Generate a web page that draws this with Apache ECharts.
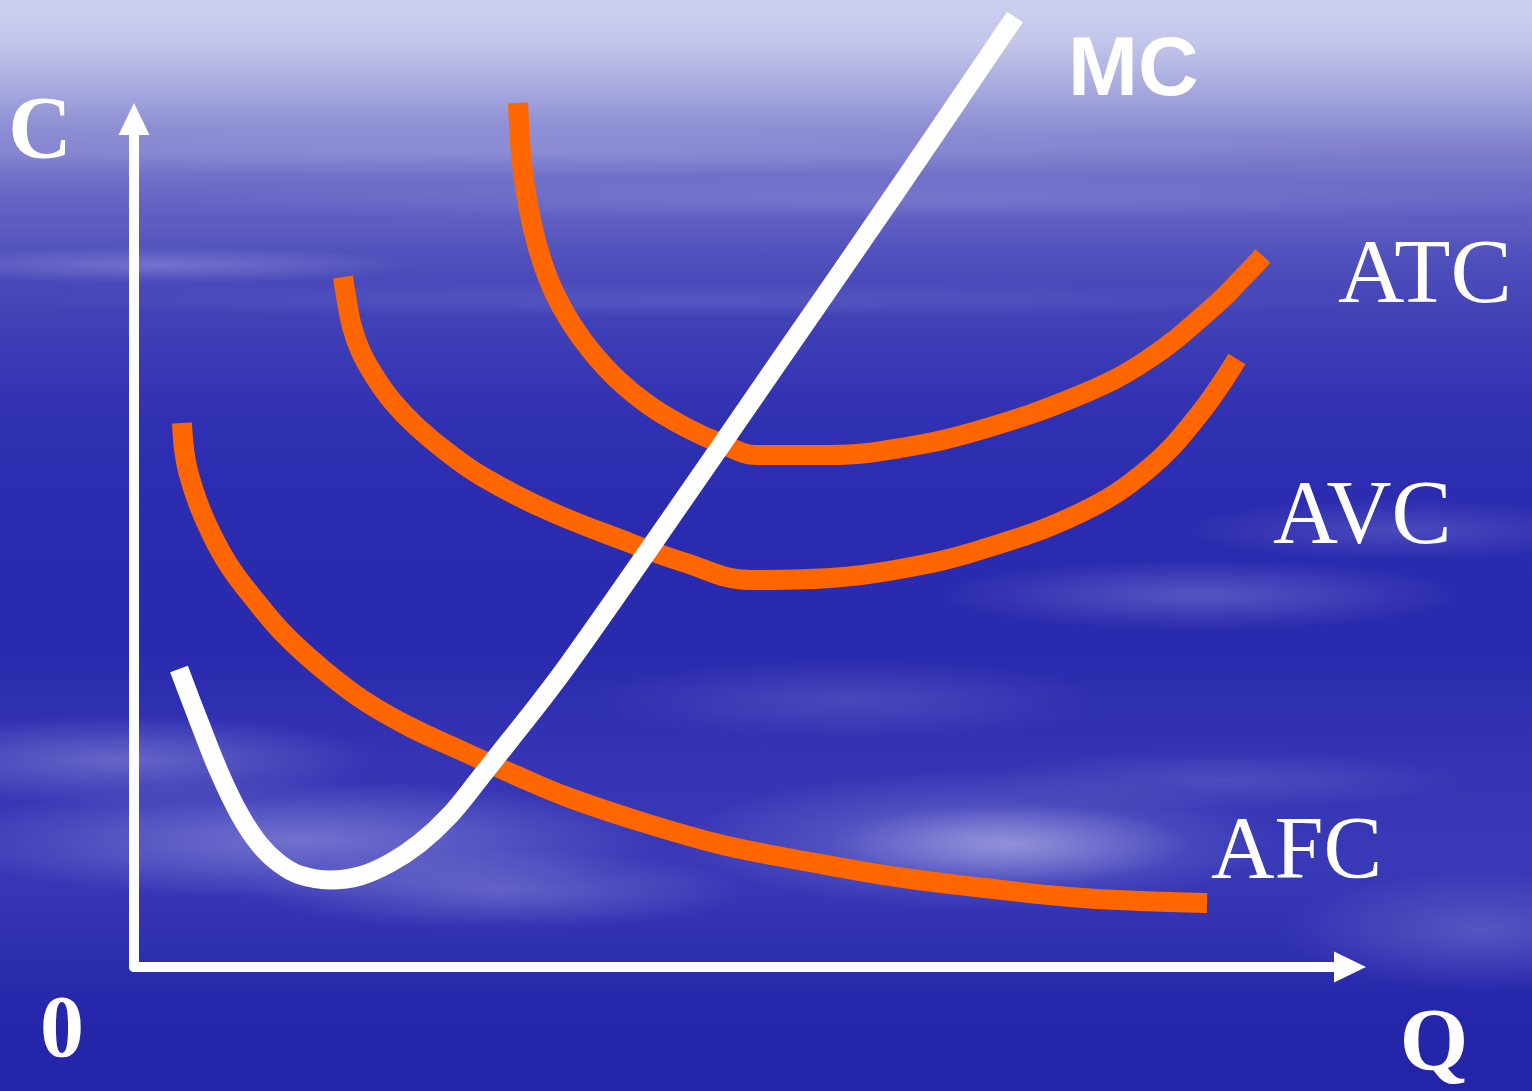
<!DOCTYPE html>
<html>
<head>
<meta charset="utf-8">
<title>Cost curves</title>
<script src="https://cdn.jsdelivr.net/npm/echarts@6/dist/echarts.min.js"></script>
<style>
  html, body { margin: 0; padding: 0; width: 1532px; height: 1091px; overflow: hidden; }
  #sky {
    position: absolute; left: 0; top: 0; width: 1532px; height: 1091px;
    background:
      radial-gradient(ellipse 180px 40px at 1010px 845px, rgba(190,190,235,0.5), rgba(190,190,235,0) 100%),
      radial-gradient(ellipse 300px 70px at 980px 840px, rgba(160,160,225,0.45), rgba(160,160,225,0) 100%),
      radial-gradient(ellipse 360px 60px at 300px 840px, rgba(160,160,225,0.55), rgba(160,160,225,0) 100%),
      radial-gradient(ellipse 260px 45px at 120px 760px, rgba(150,150,220,0.5), rgba(150,150,220,0) 100%),
      radial-gradient(ellipse 250px 40px at 500px 890px, rgba(150,150,220,0.45), rgba(150,150,220,0) 100%),
      radial-gradient(ellipse 260px 40px at 850px 700px, rgba(140,140,215,0.28), rgba(140,140,215,0) 100%),
      radial-gradient(ellipse 260px 35px at 1200px 595px, rgba(150,150,220,0.4), rgba(150,150,220,0) 100%),
      radial-gradient(ellipse 220px 30px at 1400px 530px, rgba(140,140,215,0.32), rgba(140,140,215,0) 100%),
      radial-gradient(ellipse 200px 60px at 1480px 930px, rgba(140,140,215,0.4), rgba(140,140,215,0) 100%),
      radial-gradient(ellipse 250px 30px at 1220px 780px, rgba(140,140,215,0.28), rgba(140,140,215,0) 100%),
      radial-gradient(ellipse 260px 18px at 160px 265px, rgba(170,170,230,0.4), rgba(170,170,230,0) 100%),
      radial-gradient(ellipse 700px 18px at 700px 300px, rgba(150,150,220,0.2), rgba(150,150,220,0) 100%),
      radial-gradient(ellipse 800px 22px at 900px 200px, rgba(180,180,235,0.22), rgba(180,180,235,0) 100%),
      radial-gradient(ellipse 900px 25px at 500px 150px, rgba(190,190,240,0.22), rgba(190,190,240,0) 100%),
      linear-gradient(to bottom,
        #cdd0ee 0px, #c4c6ea 40px, #a6a8de 90px, #8585d0 140px, #6464c4 200px,
        #4c4cbb 270px, #3d3db6 340px, #3030b2 420px, #2b2bb0 520px, #2a2aae 650px,
        #3434b4 760px, #3a3ab8 860px, #3030b2 940px, #2626aa 1010px, #2424a8 1091px);
  }
  #chart { position: absolute; left: 0; top: 0; width: 1532px; height: 1091px; }
</style>
</head>
<body>
<div id="sky"></div>
<div id="chart"></div>
<script>
// Short-run cost curves: quantity Q on the horizontal axis, cost C on the vertical axis.
var qMax = 12.16;
var cMax = 8.48;

// Each curve as [Q, C] pairs
var mcData = [
  [0.45, 2.98], [0.66, 2.43], [0.86, 1.93], [1.06, 1.52], [1.26, 1.22],
  [1.46, 1.03], [1.66, 0.92], [1.96, 0.87], [2.26, 0.91], [2.56, 1.04],
  [2.86, 1.24], [3.16, 1.52], [3.46, 1.89], [3.76, 2.27], [4.06, 2.65],
  [4.36, 3.05], [5.16, 4.19], [6.48, 6.10], [7.66, 7.81], [8.81, 9.50]
];
var atcData = [
  [3.84, 8.64], [3.86, 8.27], [3.90, 7.87], [3.97, 7.47], [4.07, 7.09],
  [4.20, 6.75], [4.37, 6.44], [4.58, 6.15], [4.84, 5.87], [5.16, 5.61],
  [5.53, 5.39], [5.86, 5.24], [6.23, 5.12], [6.96, 5.12], [7.66, 5.19],
  [8.46, 5.37], [9.46, 5.72], [10.13, 6.07], [10.79, 6.60], [11.13, 6.94],
  [11.29, 7.11]
];
var avcData = [
  [2.09, 6.90], [2.13, 6.65], [2.18, 6.40], [2.27, 6.15], [2.41, 5.90],
  [2.59, 5.65], [2.83, 5.40], [3.13, 5.15], [3.49, 4.90], [4.13, 4.57],
  [4.96, 4.24], [5.49, 4.05], [6.16, 3.87], [6.96, 3.89], [7.66, 3.98],
  [8.46, 4.17], [9.46, 4.54], [10.13, 4.97], [10.63, 5.50], [11.03, 6.08]
];
var afcData = [
  [0.48, 5.44], [0.52, 5.05], [0.63, 4.67], [0.78, 4.32], [0.96, 4.00],
  [1.21, 3.67], [1.49, 3.34], [1.86, 3.00], [2.29, 2.67], [2.76, 2.40],
  [3.26, 2.17], [3.81, 1.92], [4.36, 1.69], [5.11, 1.44], [5.89, 1.22],
  [6.76, 1.05], [7.63, 0.90], [8.51, 0.79], [9.36, 0.70], [10.06, 0.66],
  [10.73, 0.64]
];

var curveNames = ['MC', 'ATC', 'AVC', 'AFC'];
var axisNames = ['C', 'Q', '0'];

var orange = '#ff6600';
var white = '#ffffff';

function curve(name, data, color, width, z) {
  return {
    name: name,
    type: 'line',
    data: data,
    smooth: 0.4,
    showSymbol: false,
    symbol: 'none',
    clip: false,
    z: z,
    lineStyle: { color: color, width: width, cap: 'butt', join: 'round' }
  };
}

var serif = '"Liberation Serif", "Times New Roman", serif';
var sans = '"Liberation Sans", Arial, sans-serif';

function label(text, x, y, size, font, weight, align) {
  return {
    type: 'text',
    x: x,
    y: y,
    z: 20,
    style: {
      text: text,
      fill: white,
      font: weight + ' ' + size + 'px ' + font,
      textAlign: align,
      textVerticalAlign: 'middle'
    }
  };
}

var chart = echarts.init(document.getElementById('chart'), null, { renderer: 'canvas' });
chart.setOption({
  animation: false,
  backgroundColor: 'transparent',
  grid: { left: 134, right: 182, top: 119, bottom: 124, containLabel: false },
  xAxis: {
    type: 'value', min: 0, max: qMax,
    axisLine: {
      show: true, onZero: false,
      symbol: ['none', 'triangle'], symbolSize: [31, 32],
      lineStyle: { color: white, width: 10 }
    },
    axisTick: { show: false }, axisLabel: { show: false }, splitLine: { show: false }
  },
  yAxis: {
    type: 'value', min: 0, max: cMax,
    axisLine: {
      show: true, onZero: false,
      symbol: ['none', 'triangle'], symbolSize: [31, 32],
      lineStyle: { color: white, width: 10 }
    },
    axisTick: { show: false }, axisLabel: { show: false }, splitLine: { show: false }
  },
  series: [
    curve(curveNames[3], afcData, orange, 20, 2),
    curve(curveNames[2], avcData, orange, 20, 2),
    curve(curveNames[1], atcData, orange, 20, 2),
    curve(curveNames[0], mcData, white, 19, 3)
  ],
  graphic: [
    label(axisNames[0], 40, 134, 88, serif, 'bold', 'center'),
    label(axisNames[2], 62, 1033, 88, serif, 'bold', 'center'),
    label(axisNames[1], 1434, 1046, 88, serif, 'bold', 'center'),
    label(curveNames[0], 1068, 72, 84, sans, 'bold', 'left'),
    label(curveNames[1], 1338, 278, 92, serif, 'normal', 'left'),
    label(curveNames[2], 1273, 519, 90, serif, 'normal', 'left'),
    label(curveNames[3], 1211, 854, 88, serif, 'normal', 'left')
  ]
});
</script>
</body>
</html>
